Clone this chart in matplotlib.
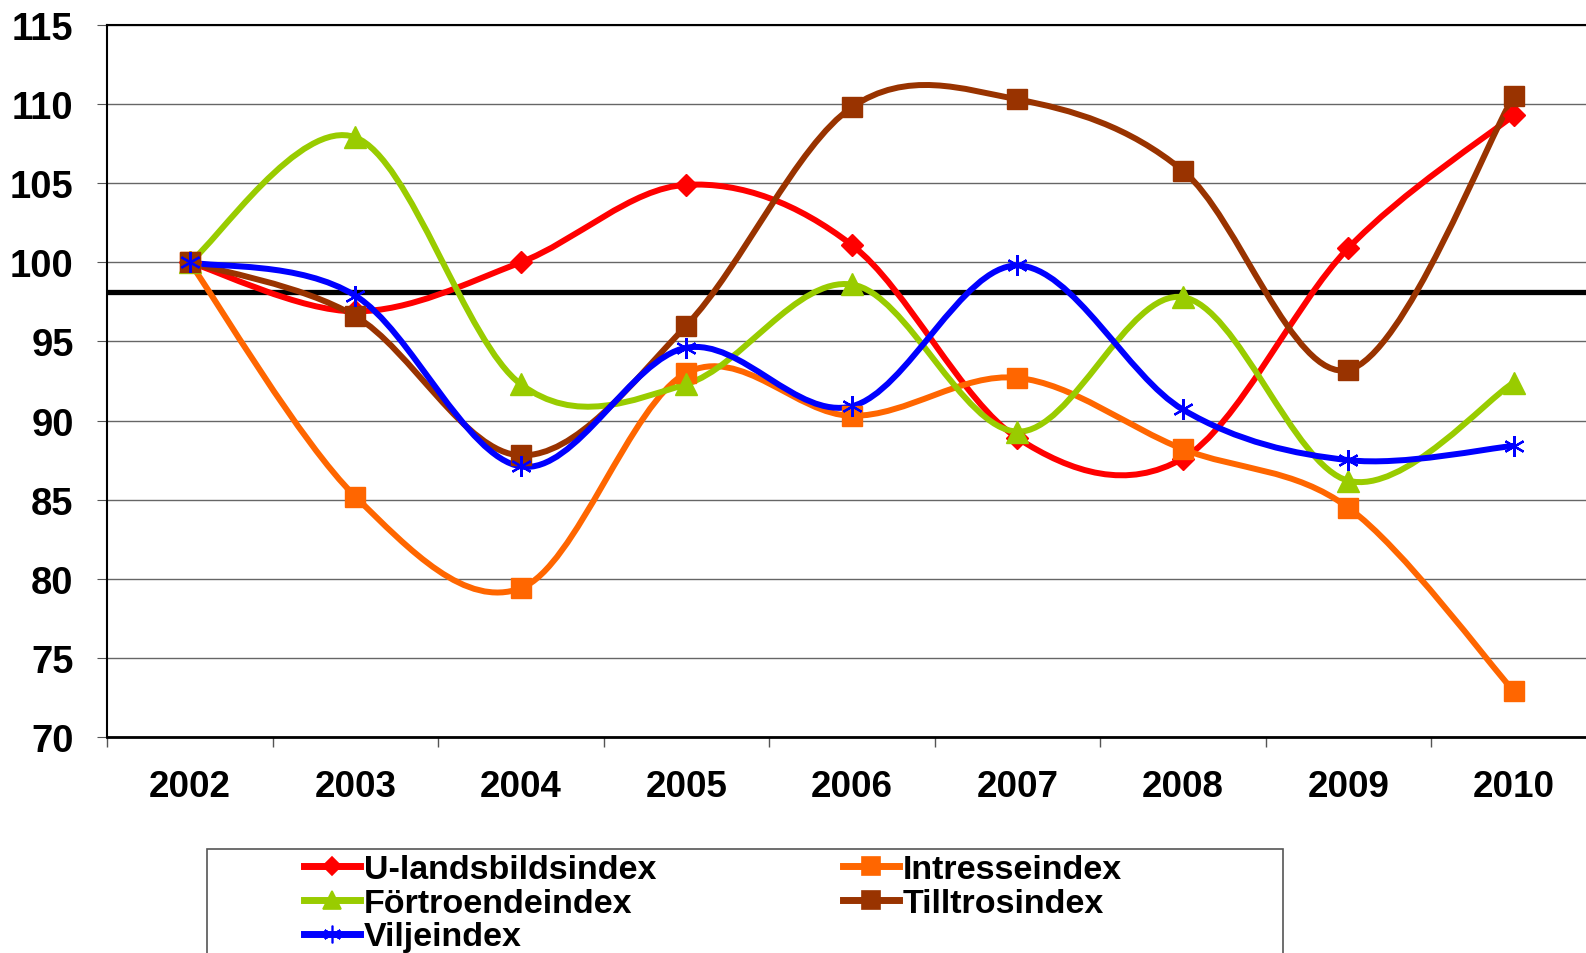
import numpy as np
import matplotlib
matplotlib.use('Agg')
import matplotlib.pyplot as plt
from matplotlib.path import Path
from matplotlib.patches import PathPatch, Rectangle
from matplotlib.lines import Line2D

plt.rcParams['font.family'] = ['Liberation Sans', 'DejaVu Sans']
plt.rcParams['font.weight'] = 'bold'

years = ['2002', '2003', '2004', '2005', '2006', '2007', '2008', '2009', '2010']

u_land = [100, 96.9, 100, 104.9, 101.1, 88.9, 87.6, 100.9, 109.3]
intresse = [100, 85.2, 79.4, 93.0, 90.3, 92.7, 88.2, 84.5, 72.9]
fortroende = [100, 107.9, 92.3, 92.3, 98.6, 89.3, 97.8, 86.2, 92.4]
tilltro = [100, 96.6, 87.8, 96.0, 109.8, 110.3, 105.8, 93.2, 110.5]
vilje = [100, 97.9, 87.1, 94.6, 90.9, 99.8, 90.7, 87.5, 88.4]

ref_level = 98.1

series_names = ['U-landsbildsindex', 'Intresseindex', 'Förtroendeindex',
                'Tilltrosindex', 'Viljeindex']
series_vals = [u_land, intresse, fortroende, tilltro, vilje]
colors = ['#FF0000', '#FF6600', '#99CC00', '#993300', '#0000FF']
markers = ['D', 's', '^', 's', (6, 2, 0)]
msizes = [11, 15, 16, 15, 15]


def smooth_path(xs, ys):
    # excel-like smoothed line: catmull-rom turned into bezier segments
    pts = np.column_stack([xs, ys]).astype(float)
    n = len(pts)
    verts = [pts[0]]
    codes = [Path.MOVETO]
    for i in range(n - 1):
        p0 = pts[i - 1] if i > 0 else pts[i]
        p1 = pts[i]
        p2 = pts[i + 1]
        p3 = pts[i + 2] if i + 2 < n else pts[i + 1]
        c1 = p1 + (p2 - p0) / 6.0
        c2 = p2 - (p3 - p1) / 6.0
        verts += [c1, c2, p2]
        codes += [Path.CURVE4] * 3
    return Path(verts, codes)


fig = plt.figure(figsize=(15.86, 9.54), dpi=100)
ax = fig.add_axes([107 / 1586, 1 - 738 / 954, 1489.5 / 1586, 712 / 954])

x = np.arange(len(years))
ax.set_xlim(-0.5, len(years) - 0.5)
ax.set_ylim(70, 115)

ax.set_yticks(np.arange(70, 116, 5))
ax.yaxis.grid(True, color='#666666', lw=1.0)
ax.set_axisbelow(True)

ax.axhline(ref_level, color='black', lw=3.8, zorder=2)

handles = []
for name, vals, c, m, ms in zip(series_names, series_vals, colors, markers, msizes):
    patch = PathPatch(smooth_path(x, vals), fill=False, edgecolor=c, lw=4.3,
                      capstyle='round', joinstyle='round', zorder=3)
    ax.add_patch(patch)
    if m == (6, 2, 0):
        ax.plot(x, vals, linestyle='none', marker=m, markersize=ms,
                markeredgecolor=c, markeredgewidth=1.6, zorder=4)
    else:
        ax.plot(x, vals, linestyle='none', marker=m, markersize=ms,
                markerfacecolor=c, markeredgecolor=c, zorder=4)
    handles.append(Line2D([], [], color=c, lw=5, marker=m,
                          markersize=ms * 0.85, markerfacecolor=c,
                          markeredgecolor=c, markeredgewidth=1.2))

ax.set_xticks(x)
ax.set_xticklabels(years)
ax.set_xticks(np.arange(-0.5, len(years), 1), minor=True)
ax.tick_params(axis='x', which='major', length=0, pad=23, labelsize=26.5)
ax.tick_params(axis='x', which='minor', length=7, color='#555555', width=1)
ax.tick_params(axis='y', length=7, pad=17, labelsize=27.5, color='#555555')

ax.spines['right'].set_visible(False)
ax.spines['left'].set_linewidth(1.5)
ax.spines['bottom'].set_linewidth(2)
ax.spines['top'].set_linewidth(1.5)

# legend box, runs off the bottom of the picture
fig.patches.append(Rectangle((207 / 1586, -0.05), (1283 - 207) / 1586,
                             (954 - 850) / 954 + 0.05, transform=fig.transFigure,
                             fill=False, edgecolor='#555555', lw=1.2))

order = [0, 2, 4, 1, 3]
leg = fig.legend([handles[i] for i in order], [series_names[i] for i in order],
                 ncol=2, loc='upper left', bbox_to_anchor=(304 / 1586, 1 - 855 / 954),
                 frameon=False, fontsize=24.5, handlelength=1.65, handletextpad=0.1,
                 columnspacing=5.5, labelspacing=0.08, borderpad=0, borderaxespad=0)

fig.savefig('out.png', dpi=100)
